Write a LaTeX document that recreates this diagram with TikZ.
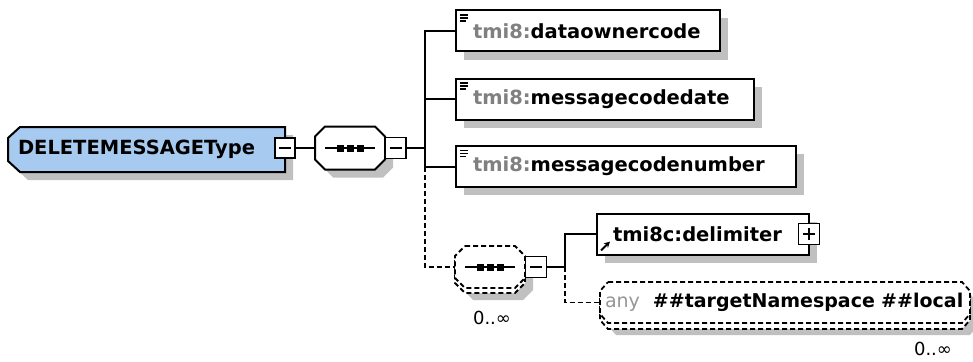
\documentclass[tikz,border=0pt]{standalone}
\usepackage{fontspec}
\setmainfont{DejaVu Sans}
\usetikzlibrary{arrows.meta}
\definecolor{typeblue}{RGB}{166,202,240}
\definecolor{shade}{RGB}{192,192,192}
\definecolor{nsgray}{RGB}{128,128,128}
\definecolor{anygray}{RGB}{150,150,150}
\pgfdeclarelayer{shadowlayer}
\pgfdeclarelayer{shapelayer}
\pgfsetlayers{shadowlayer,shapelayer,main}
% octagon path round a named node: #1 node, #2 chamfer x, #3 chamfer y
\newcommand\octpath[3]{([xshift=#2pt]#1.north west) -- ([xshift=-#2pt]#1.north east)
  -- ([yshift=-#3pt]#1.north east) -- ([yshift=#3pt]#1.south east)
  -- ([xshift=-#2pt]#1.south east) -- ([xshift=#2pt]#1.south west)
  -- ([yshift=#3pt]#1.south west) -- ([yshift=-#3pt]#1.north west) -- cycle}
% left-chamfered box
\newcommand\leftchpath[3]{([xshift=#2pt]#1.north west) -- (#1.north east)
  -- (#1.south east) -- ([xshift=#2pt]#1.south west)
  -- ([yshift=#3pt]#1.south west) -- ([yshift=-#3pt]#1.north west) -- cycle}
\begin{document}
\begin{tikzpicture}[x=1pt,y=-1pt,
  txt/.style={font=\fontsize{19.5}{22}\selectfont\bfseries},
  shad/.style={fill=shade, transform canvas={shift={(8pt,-8pt)}}},
  holder/.style={draw=none, fill=none, outer sep=0pt, inner sep=0pt},
  elem/.style={txt, draw, line width=2pt, fill=white, minimum height=41pt,
    inner xsep=17pt, inner ysep=0pt, anchor=west, align=left, outer sep=0pt},
  outl/.style={draw, line width=2pt, fill=white},
  doutl/.style={draw, line width=1.8pt, fill=white, dash pattern=on 5pt off 3pt},
  mbox/.style={draw, line width=1.7pt, fill=white, minimum size=21pt, inner sep=0pt, outer sep=0pt},
  conn/.style={line width=2pt},
  dconn/.style={line width=1.8pt, dash pattern=on 5pt off 3pt},
  mult/.style={font=\fontsize{18}{20}\selectfont},
  sq/.style={fill=black}
]
\useasboundingbox (0,0) rectangle (973,361);

% ---------- main type
\node[holder, minimum width=277pt, minimum height=45pt, text width=257pt,
  inner xsep=10pt, align=left, txt] (main) at (146.5,149.5) {DELETEMESSAGEType};
\begin{pgfonlayer}{shadowlayer}
  \fill[shad] \leftchpath{main}{12}{11};
\end{pgfonlayer}
\begin{pgfonlayer}{shapelayer}
  \draw[outl, fill=typeblue] \leftchpath{main}{12}{11};
\end{pgfonlayer}
\node[mbox, minimum size=20pt] (mainbox) at (285,148) {};
\draw[conn] ([xshift=-6pt]mainbox.center) -- ([xshift=6pt]mainbox.center);

% ---------- sequence 1
\node[holder, minimum width=70pt, minimum height=43pt] (seq1) at (350,148) {};
\begin{pgfonlayer}{shadowlayer}
  \fill[shad] \octpath{seq1}{10}{10};
\end{pgfonlayer}
\begin{pgfonlayer}{shapelayer}
  \draw[outl] \octpath{seq1}{10}{10};
\end{pgfonlayer}
\draw[conn] ([xshift=-25pt]seq1.center) -- ([xshift=25pt]seq1.center);
\foreach \dx in {-10,0,10} \fill[sq] ([xshift=\dx pt]seq1.center) +(-3.5,-3.5) rectangle +(3.5,3.5);
\node[mbox] (seq1box) at (395.5,148) {};
\draw[conn] ([xshift=-6pt]seq1box.center) -- ([xshift=6pt]seq1box.center);
\coordinate (sp1) at (425,148);

% ---------- elements
\node[elem, text width=230pt] (el1) at (456,31) {{\color{nsgray}tmi8:}dataownercode};
\node[elem, text width=264pt] (el2) at (456,99) {{\color{nsgray}tmi8:}messagecodedate};
\node[elem, text width=306pt] (el3) at (456,166.5) {{\color{nsgray}tmi8:}messagecodenumber};
\begin{pgfonlayer}{shadowlayer}
  \foreach \e in {el1,el2,el3} \fill[shad] (\e.north west) rectangle (\e.south east);
\end{pgfonlayer}
\foreach \e in {el1,el2,el3} {
  \draw[line width=1.4pt] ([shift={(4,4.5)}]\e.north west) -- +(8,0);
  \draw[line width=1.4pt] ([shift={(4,7.5)}]\e.north west) -- +(8,0);
  \draw[line width=1.4pt] ([shift={(4,10.5)}]\e.north west) -- +(6,0);
}

% ---------- connectors main -> seq1 -> elements
\draw[conn] (mainbox.east) -- (seq1.west);
\draw[conn] (seq1box.east) -- (sp1);
\draw[conn] (el1.west) -| (sp1) |- (el3.west);
\draw[conn] (sp1) |- (el2.west);

% ---------- sequence 2 (optional, repeating)
\node[holder, minimum width=70pt, minimum height=42pt] (seq2) at (490,267) {};
\begin{pgfonlayer}{shadowlayer}
  \fill[fill=shade, transform canvas={shift={(8pt,-12pt)}}] \octpath{seq2}{10}{10};
\end{pgfonlayer}
\begin{pgfonlayer}{shapelayer}
  \draw[doutl, transform canvas={shift={(0pt,-5pt)}}] \octpath{seq2}{10}{10};
  \draw[doutl] \octpath{seq2}{10}{10};
\end{pgfonlayer}
\draw[conn] ([xshift=-25pt]seq2.center) -- ([xshift=25pt]seq2.center);
\foreach \dx in {-10,0,10} \fill[sq] ([xshift=\dx pt]seq2.center) +(-3.5,-3.5) rectangle +(3.5,3.5);
\node[mbox] (seq2box) at (536,267) {};
\draw[conn] ([xshift=-6pt]seq2box.center) -- ([xshift=6pt]seq2box.center);
\coordinate (sp2) at (565,267);
\draw[dconn] (sp1 |- el3.west) |- (seq2.west);
\node[mult] (m1) at (492,318) {0..∞};

% ---------- delimiter element
\node[elem, text width=180pt, inner xsep=16pt] (delim) at (597,234) {tmi8c:delimiter};
\begin{pgfonlayer}{shadowlayer}
  \fill[shad] (delim.north west) rectangle (delim.south east);
\end{pgfonlayer}
\node[mbox] (delimbox) at (809,234) {};
\draw[conn] ([xshift=-6pt]delimbox.center) -- ([xshift=6pt]delimbox.center);
\draw[conn] ([yshift=-6pt]delimbox.center) -- ([yshift=6pt]delimbox.center);
\draw[line width=2pt, -{Stealth[length=6pt,width=6pt]}] ([shift={(4,-4)}]delim.south west) -- +(9,-9);

% ---------- any element
\node[holder, minimum width=370pt, minimum height=41pt, inner xsep=5pt,
  text width=360pt, align=left, font=\fontsize{19}{22}\selectfont\bfseries]
  (any) at (785,302.5) {{\color{anygray}\mdseries any}\hspace{13pt}\#\#targetNamespace \#\#local};
\begin{pgfonlayer}{shadowlayer}
  \fill[fill=shade, transform canvas={shift={(8pt,-12pt)}}] \octpath{any}{8}{9};
\end{pgfonlayer}
\begin{pgfonlayer}{shapelayer}
  \draw[doutl, transform canvas={shift={(0pt,-6pt)}}] \octpath{any}{8}{9};
  \draw[doutl] \octpath{any}{8}{9};
\end{pgfonlayer}
\node[mult] (m2) at (933,349) {0..∞};

% ---------- connectors seq2 -> delimiter / any
\draw[conn] (seq2box.east) -- (sp2);
\draw[conn] (sp2) |- (delim.west);
\draw[dconn] (sp2) |- (any.west);
\end{tikzpicture}
\end{document}
